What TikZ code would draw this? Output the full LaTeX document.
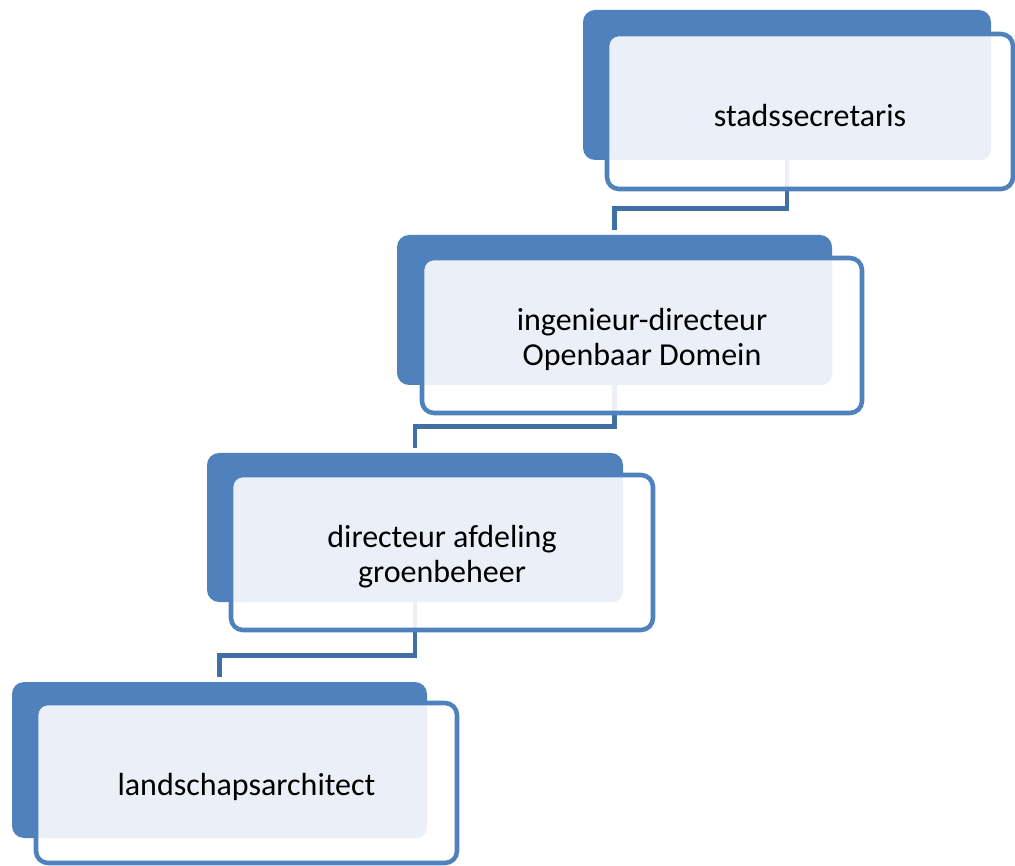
\documentclass[tikz,border=0pt]{standalone}
\usepackage{fontspec}
\setmainfont{Carlito}
\usetikzlibrary{positioning,fit}

\definecolor{boxblue}{HTML}{4F81BD}
\definecolor{panelblue}{HTML}{EBF0F8}
\definecolor{linkblue}{HTML}{426EA6}

\begin{document}
\begin{tikzpicture}[x=0.75pt,y=-0.75pt,
    backbox/.style={fill=boxblue, rounded corners=9pt, inner sep=0pt, outer sep=0pt},
    framebox/.style={draw=boxblue, line width=3.4pt, fill=white, fill opacity=.9,
        rounded corners=9pt, inner sep=0pt, outer sep=0pt},
    panelfill/.style={fill=panelblue, fill opacity=1, rounded corners=8pt},
    caption/.style={align=center, font=\fontsize{24}{26.5}\selectfont},
    connector/.style={draw=linkblue, line width=3.7pt, shorten >=4pt}]

\useasboundingbox (0,0) rectangle (1015,866);

% dark blocks
\foreach \n/\xa/\ya/\xb/\yb in {1/583/10/991/160, 2/397/235/832/385, 3/207/453/623/602, 4/12/682/427/838} {
    \node[backbox, fit={(\xa,\ya) (\xb,\yb)}] (back\n) {};
}

% steps down
\foreach \i in {1,2,3} {
    \pgfmathtruncatemacro{\nxt}{\i+1}
    \draw[connector] (back\i.south) |- ([yshift=20pt]back\nxt.north) -- (back\nxt.north);
}

% framed boxes with text
\foreach \n/\xa/\ya/\xb/\yb/\txt in {1/607/34/1013/189/stadssecretaris,
        2/422/258/862/413/{ingenieur-directeur\\Openbaar Domein},
        3/231/475/653/630/{directeur afdeling\\groenbeheer},
        4/36/703/457/863/landschapsarchitect} {
    \node[framebox, fit={(\xa,\ya) (\xb,\yb)},
        path picture={\fill[panelfill] (path picture bounding box.north west) rectangle (back\n.south east);}]
        (frame\n) {};
    \node[caption] (text\n) at ([yshift=-3pt]frame\n.center) {\txt};
}
\end{tikzpicture}
\end{document}
